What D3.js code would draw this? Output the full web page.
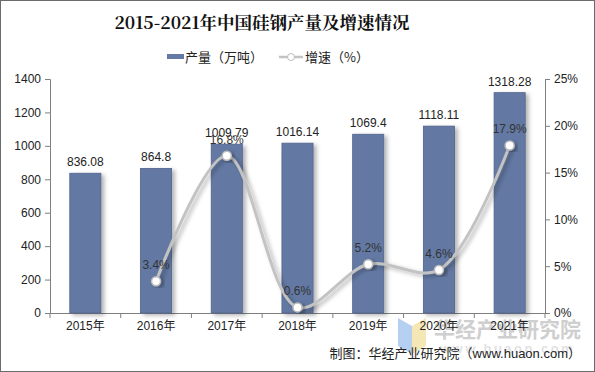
<!DOCTYPE html>
<html>
<head>
<meta charset="utf-8">
<script src="https://cdn.jsdelivr.net/npm/d3@7"></script>
<style>
  body { margin: 0; background: #fff; }
  text { font-family: Arial, "Liberation Sans", "Noto Sans CJK SC", sans-serif; }
</style>
</head>
<body>
<div id="chart"></div>
<script>
// data
var years = ["2015年", "2016年", "2017年", "2018年", "2019年", "2020年", "2021年"];
var output = [836.08, 864.8, 1009.79, 1016.14, 1069.4, 1118.11, 1318.28];
var outputLabels = ["836.08", "864.8", "1009.79", "1016.14", "1069.4", "1118.11", "1318.28"];
var growth = [null, 3.4, 16.8, 0.6, 5.2, 4.6, 17.9];
var leftTicks = [0, 200, 400, 600, 800, 1000, 1200, 1400];
var rightTicks = [0, 5, 10, 15, 20, 25];

var W = 595, H = 372;
var m = { left: 50, right: 50, top: 79, bottom: 59 };

var svg = d3.select("#chart").append("svg")
    .attr("width", W)
    .attr("height", H);

var defs = svg.append("defs");
var f = defs.append("filter").attr("id", "shadow").attr("x", "-20%").attr("y", "-20%").attr("width", "160%").attr("height", "140%");
f.append("feDropShadow").attr("dx", 3).attr("dy", 2).attr("stdDeviation", 2).attr("flood-color", "#000").attr("flood-opacity", 0.3);

// frame
svg.append("rect").attr("x", 0.5).attr("y", 0.5).attr("width", W - 1).attr("height", H - 1)
    .attr("fill", "#fff").attr("stroke", "#6b6b6b");

// title
svg.append("text").attr("x", 262).attr("y", 29).attr("text-anchor", "middle")
    .style("font-family", "'Noto Serif CJK SC', 'DejaVu Serif', 'Noto Sans CJK SC', serif")
    .style("font-size", "17.5px").style("font-weight", "bold").attr("fill", "#111")
    .text("2015-2021年中国硅钢产量及增速情况");

var x = d3.scaleBand().domain(years).range([m.left, W - m.right]).paddingInner(0.56).paddingOuter(0.28);
var y = d3.scaleLinear().domain([0, 1400]).range([H - m.bottom, m.top]);
var y2 = d3.scaleLinear().domain([0, 25]).range([H - m.bottom, m.top]);

// watermark
var wm = svg.append("g");
wm.append("path").attr("d", "M398,318 L412,326 L412,354 L398,346 Z").attr("fill", "#a9c8ee").attr("opacity", 0.85);
wm.append("path").attr("d", "M412,326 L426,318 L426,346 L412,354 Z").attr("fill", "#f3e3a8").attr("opacity", 0.85);
wm.append("text").attr("x", 434).attr("y", 337).style("font-family", "'Noto Sans CJK SC', sans-serif")
    .style("font-size", "21px").style("font-weight", "bold").attr("fill", "#cfcfcf").text("华经产业研究院");
wm.append("text").attr("x", 440).attr("y", 353).style("font-size", "13px").style("font-weight", "bold")
    .style("letter-spacing", "2.5px").attr("fill", "#e2e2e2").text("www.huaon.com");

// axes
var axL = svg.append("g").attr("transform", "translate(" + m.left + ",0)")
    .call(d3.axisLeft(y).tickValues(leftTicks).tickSize(5).tickPadding(4).tickFormat(d3.format("d")));
var axR = svg.append("g").attr("transform", "translate(" + (W - m.right) + ",0)")
    .call(d3.axisRight(y2).tickValues(rightTicks).tickSize(5).tickPadding(4).tickFormat(function(d) { return d + "%"; }));
var axB = svg.append("g").attr("transform", "translate(0," + (H - m.bottom) + ")")
    .call(d3.axisBottom(x).tickSize(0).tickPadding(8));

[axL, axR, axB].forEach(function(g) {
  g.select(".domain").attr("stroke", "#7f7f7f");
  g.selectAll(".tick line").attr("stroke", "#7f7f7f");
  g.selectAll(".tick text").attr("fill", "#222").style("font-size", "12px")
    .style("font-family", "Arial, 'Liberation Sans', 'Noto Sans CJK SC', sans-serif");
});
// category tick marks between bands
axB.selectAll(".sep").data(d3.range(years.length + 1)).enter().append("line")
    .attr("x1", function(i) { return m.left + i * (W - m.left - m.right) / years.length; })
    .attr("x2", function(i) { return m.left + i * (W - m.left - m.right) / years.length; })
    .attr("y1", 0).attr("y2", 5).attr("stroke", "#7f7f7f");

// bars
svg.selectAll(".bar").data(output).enter().append("rect")
    .attr("class", "bar")
    .attr("x", function(d, i) { return x(years[i]); })
    .attr("y", function(d) { return y(d); })
    .attr("width", x.bandwidth())
    .attr("height", function(d) { return y(0) - y(d); })
    .attr("fill", "#6479a3")
    .attr("stroke", "#50638d").attr("stroke-width", 0.8)
    .attr("filter", "url(#shadow)");

svg.selectAll(".blabel").data(output).enter().append("text")
    .attr("x", function(d, i) { return x(years[i]) + x.bandwidth() / 2; })
    .attr("y", function(d) { return y(d) - 7; })
    .attr("text-anchor", "middle").style("font-size", "12px").attr("fill", "#222")
    .text(function(d, i) { return outputLabels[i]; });

// line
var pts = growth.map(function(d, i) { return { v: d, c: years[i] }; }).filter(function(d) { return d.v !== null; });
var line = d3.line()
    .x(function(d) { return x(d.c) + x.bandwidth() / 2; })
    .y(function(d) { return y2(d.v); })
    .curve(d3.curveCatmullRom.alpha(0.5));

svg.append("path").datum(pts).attr("d", line)
    .attr("fill", "none").attr("stroke", "#c3c3c3").attr("stroke-width", 3)
    .attr("filter", "url(#shadow)");

svg.selectAll(".pt").data(pts).enter().append("circle")
    .attr("cx", function(d) { return x(d.c) + x.bandwidth() / 2; })
    .attr("cy", function(d) { return y2(d.v); })
    .attr("r", 4.5).attr("fill", "#fff").attr("stroke", "#bdbdbd").attr("stroke-width", 1.5)
    .attr("filter", "url(#shadow)");

svg.selectAll(".plabel").data(pts).enter().append("text")
    .attr("x", function(d) { return x(d.c) + x.bandwidth() / 2; })
    .attr("y", function(d) { return y2(d.v) - 12; })
    .attr("text-anchor", "middle").style("font-size", "12px").attr("fill", "#333")
    .text(function(d) { return d.v + "%"; });

// legend
var lg = svg.append("g");
lg.append("rect").attr("x", 167).attr("y", 54).attr("width", 17).attr("height", 5).attr("fill", "#6479a3");
lg.append("text").attr("x", 185).attr("y", 62).style("font-size", "13px").style("font-family", "'Noto Sans CJK SC', sans-serif")
    .attr("fill", "#222").text("产量（万吨）");
lg.append("line").attr("x1", 279).attr("x2", 303).attr("y1", 57).attr("y2", 57).attr("stroke", "#c3c3c3").attr("stroke-width", 2.5);
lg.append("circle").attr("cx", 291).attr("cy", 57).attr("r", 3.5).attr("fill", "#fff").attr("stroke", "#bdbdbd");
lg.append("text").attr("x", 305).attr("y", 62).style("font-size", "13px").style("font-family", "'Noto Sans CJK SC', sans-serif")
    .attr("fill", "#222").text("增速（%）");

// source
svg.append("text").attr("x", 581).attr("y", 358).attr("text-anchor", "end").style("font-size", "13px")
    .attr("fill", "#222")
    .text("制图：华经产业研究院（www.huaon.com）");
</script>
</body>
</html>
